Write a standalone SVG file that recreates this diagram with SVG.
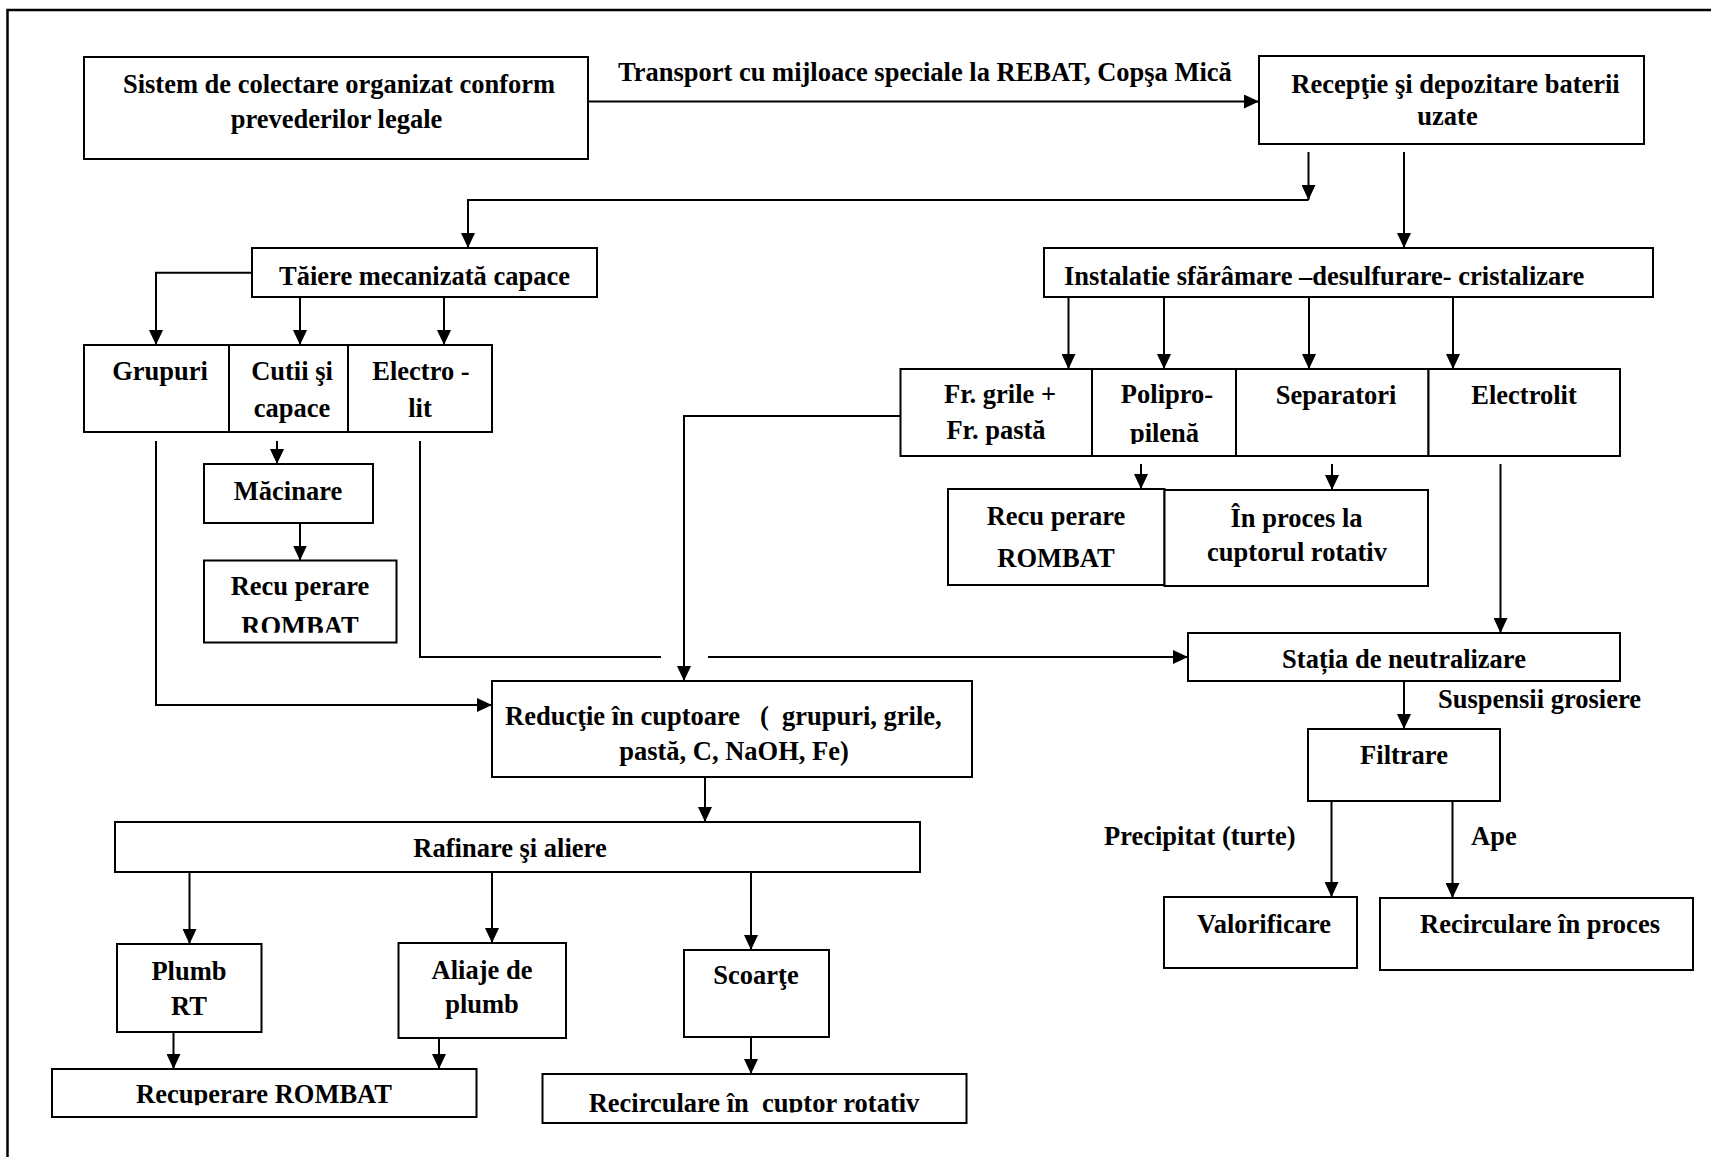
<svg xmlns="http://www.w3.org/2000/svg" width="1711" height="1157" viewBox="0 0 1711 1157">
<style>
.n rect{fill:#fff;stroke:#000;stroke-width:2}
text{font-family:"Liberation Serif","Times New Roman",serif;font-weight:bold;font-size:26.5px;fill:#000;white-space:pre}
.m{text-anchor:middle}
.c path{fill:none;stroke:#000;stroke-width:2;marker-end:url(#ah)}
.c path.p{marker-end:none}
</style>
<defs>
<marker id="ah" markerUnits="userSpaceOnUse" markerWidth="15" markerHeight="14" refX="15" refY="7" orient="auto"><path d="M0,0 L15,7 L0,14 z" fill="#000"/></marker>
<clipPath id="cT"><rect x="252" y="248" width="345" height="48"/></clipPath>
<clipPath id="cRL"><rect x="204" y="560" width="193" height="72.7"/></clipPath>
<clipPath id="cP"><rect x="1092" y="369" width="144" height="75"/></clipPath>
<clipPath id="cRR"><rect x="52" y="1069" width="425" height="36.3"/></clipPath>
<clipPath id="cRC"><rect x="542" y="1074" width="425" height="38.5"/></clipPath>
</defs>
<rect width="1711" height="1157" fill="#fff"/>
<path d="M7.5,1157 V10 H1711" fill="none" stroke="#000" stroke-width="2.5"/>

<g class="c" id="connectors">
<path d="M588,101.5 H1259"/>
<path d="M1308.5,152 V200"/>
<path d="M1308.5,200 H468 V248"/>
<path d="M1404,152 V248"/>
<path d="M252,272.7 H156 V345"/>
<path d="M300,297 V345"/>
<path d="M444,297 V345"/>
<path d="M1068.5,297 V369"/>
<path d="M1164,297 V369"/>
<path d="M1309,297 V369"/>
<path d="M1453,297 V369"/>
<path d="M277,441 V464"/>
<path d="M300,512 V560.5"/>
<path d="M156,441 V705 H492"/>
<path class="p" d="M420,441 V657 H661"/>
<path d="M708,657 H1188"/>
<path d="M900.5,416 H684 V681"/>
<path d="M1141,464 V489"/>
<path d="M1332,464 V490"/>
<path d="M1500.5,464 V633"/>
<path d="M1404,681 V729"/>
<path d="M1331.5,801 V897"/>
<path d="M1452.5,800 V898"/>
<path d="M705,775 V822"/>
<path d="M189.5,867 V944"/>
<path d="M492,872 V943"/>
<path d="M751,872 V950"/>
<path d="M173.5,1032 V1069"/>
<path d="M439,1031.5 V1069"/>
<path d="M751,1037 V1074"/>
</g>

<text x="618" y="81">Transport cu mijloace speciale la REBAT, Copşa Mică</text>
<text x="1438" y="708">Suspensii grosiere</text>
<text x="1104" y="845">Precipitat (turte)</text>
<text x="1471" y="845">Ape</text>

<g class="n" id="sistem"><rect x="84" y="57" width="504" height="102"/><text class="m" x="339" y="93">Sistem de colectare organizat conform</text><text class="m" x="336.5" y="128">prevederilor legale</text></g>
<g class="n" id="receptie"><rect x="1259" y="56" width="385" height="88"/><text class="m" x="1455.5" y="93">Recepţie şi depozitare baterii</text><text class="m" x="1447.5" y="125">uzate</text></g>
<g class="n" id="taiere"><rect x="252" y="248" width="345" height="49"/><text class="m" x="424.5" y="285" clip-path="url(#cT)">Tăiere mecanizată capace</text></g>
<g class="n" id="instalatie"><rect x="1044" y="248" width="609" height="49"/><text x="1064" y="285">Instalatie sfărâmare –desulfurare- cristalizare</text></g>
<g class="n" id="grupuri"><rect x="84" y="345" width="145" height="87"/><text class="m" x="160" y="380">Grupuri</text></g>
<g class="n" id="cutii"><rect x="229" y="345" width="119" height="87"/><text class="m" x="292" y="380">Cutii şi</text><text class="m" x="292" y="417">capace</text></g>
<g class="n" id="electro"><rect x="348" y="345" width="144" height="87"/><text class="m" x="421" y="380">Electro -</text><text class="m" x="420" y="417">lit</text></g>
<g class="n" id="macinare"><rect x="204" y="464" width="169" height="59"/><text class="m" x="288" y="500">Măcinare</text></g>
<g class="n" id="recuperare-st"><rect x="204" y="560.5" width="192.5" height="82"/><text class="m" x="300" y="595">Recu perare</text><text class="m" x="300" y="634.5" clip-path="url(#cRL)">ROMBAT</text></g>
<g class="n" id="fr-grile"><rect x="900.5" y="369" width="191.5" height="87"/><text class="m" x="1000" y="403">Fr. grile +</text><text class="m" x="996" y="439">Fr. pastă</text></g>
<g class="n" id="polipropilena"><rect x="1092" y="369" width="144" height="87"/><text class="m" x="1167" y="403">Polipro-</text><text class="m" x="1164.5" y="442" clip-path="url(#cP)">pilenă</text></g>
<g class="n" id="separatori"><rect x="1236" y="369" width="192.5" height="87"/><text class="m" x="1336" y="404">Separatori</text></g>
<g class="n" id="electrolit"><rect x="1428.5" y="369" width="191.5" height="87"/><text class="m" x="1524" y="404">Electrolit</text></g>
<g class="n" id="recuperare-dr"><rect x="948" y="489" width="216.5" height="96"/><text class="m" x="1056" y="525">Recu perare</text><text class="m" x="1056" y="567">ROMBAT</text></g>
<g class="n" id="in-proces"><rect x="1164.5" y="490" width="263.5" height="96"/><text class="m" x="1296.5" y="527">În proces la</text><text class="m" x="1297" y="561">cuptorul rotativ</text></g>
<g class="n" id="statia"><rect x="1188" y="633" width="432" height="48"/><text class="m" x="1404" y="668">Stația de neutralizare</text></g>
<g class="n" id="filtrare"><rect x="1308" y="729" width="192" height="72"/><text class="m" x="1404" y="764">Filtrare</text></g>
<g class="n" id="valorificare"><rect x="1164" y="897" width="193" height="71"/><text class="m" x="1264" y="933">Valorificare</text></g>
<g class="n" id="recirculare-proces"><rect x="1380" y="898" width="313" height="72"/><text class="m" x="1540" y="933">Recirculare în proces</text></g>
<g class="n" id="reductie"><rect x="492" y="681" width="480" height="96"/><text x="505" y="725">Reducţie în cuptoare   (  grupuri, grile,</text><text class="m" x="734" y="760">pastă, C, NaOH, Fe)</text></g>
<g class="n" id="rafinare"><rect x="115" y="822" width="805" height="50"/><text class="m" x="510" y="856.7">Rafinare şi aliere</text></g>
<g class="n" id="plumb-rt"><rect x="117" y="944" width="144.5" height="88"/><text class="m" x="189" y="980">Plumb</text><text class="m" x="189" y="1015">RT</text></g>
<g class="n" id="aliaje"><rect x="398.5" y="943" width="167.5" height="95"/><text class="m" x="482" y="979">Aliaje de</text><text class="m" x="482" y="1013">plumb</text></g>
<g class="n" id="scoarte"><rect x="684" y="950" width="145" height="87"/><text class="m" x="756" y="984">Scoarţe</text></g>
<g class="n" id="recuperare-rombat"><rect x="52" y="1069" width="424.5" height="48"/><text class="m" x="264" y="1103.3" clip-path="url(#cRR)">Recuperare ROMBAT</text></g>
<g class="n" id="recirculare-cuptor"><rect x="542.5" y="1074" width="424" height="49"/><text class="m" x="754" y="1112" clip-path="url(#cRC)">Recirculare în  cuptor rotativ</text></g>
</svg>
